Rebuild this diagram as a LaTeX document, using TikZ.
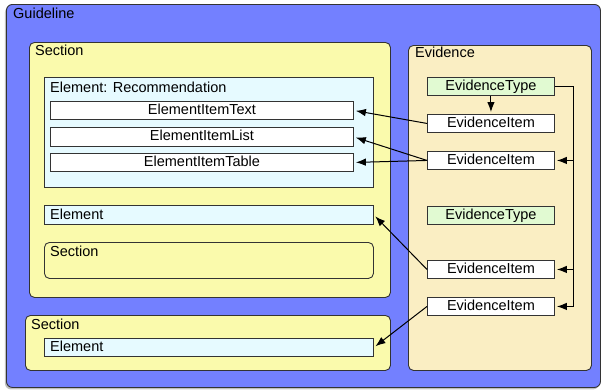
\documentclass[tikz,border=0pt]{standalone}
\usepackage{fontspec}
\setmainfont{Liberation Sans}
\usetikzlibrary{arrows.meta,shadows}

\definecolor{guideblue}{RGB}{115,128,255}
\definecolor{sectyellow}{RGB}{250,250,172}
\definecolor{elemcyan}{RGB}{230,250,255}
\definecolor{evbeige}{RGB}{250,238,195}
\definecolor{typegreen}{RGB}{225,250,210}
\newcommand{\diafont}{\fontsize{14.5}{17}\selectfont}

\begin{document}
\begin{tikzpicture}[x=1pt,y=-1pt,
    box/.style={draw=black!80, line width=0.9pt, inner sep=0pt, anchor=north west},
    guidebox/.style={box, fill=guideblue, rounded corners=6pt,
      drop shadow={shadow xshift=-1.5pt, shadow yshift=-2pt, opacity=.5}},
    sectbox/.style={box, fill=sectyellow, rounded corners=5pt},
    evbox/.style={box, fill=evbeige, rounded corners=5pt},
    elembox/.style={box, fill=elemcyan},
    itembox/.style={box, fill=white, font=\diafont, text height=10.5pt, text depth=3pt},
    typebox/.style={itembox, fill=typegreen},
    lbl/.style={anchor=base west, inner sep=0pt, font=\diafont},
    arr/.style={-{Latex[length=10pt,width=7.5pt]}, line width=1pt, shorten >=2pt}]
  \useasboundingbox (0,0) rectangle (605,391);

  % guideline
  \node[guidebox, minimum width=594pt, minimum height=383pt] (guideline) at (6,4) {};
  \node[lbl] at (13,18) {Guideline};

  % first section
  \node[sectbox, minimum width=361pt, minimum height=255pt] (section1) at (29,42) {};
  \node[lbl] at (35,55) {Section};
  \node[elembox, minimum width=329pt, minimum height=110pt] (recommendation) at (44,77) {};
  \node[lbl] at (50,92) {Element: Recommendation};
  \node[itembox, minimum width=303pt, minimum height=18pt] (itemtext) at (50,101) {ElementItemText};
  \node[itembox, minimum width=303pt, minimum height=19pt] (itemlist) at (50,127) {ElementItemList};
  \node[itembox, minimum width=303pt, minimum height=18pt] (itemtable) at (50,153) {ElementItemTable};
  \node[elembox, minimum width=329pt, minimum height=19pt] (element1) at (44,205) {};
  \node[lbl] at (50,219) {Element};
  \node[sectbox, minimum width=329pt, minimum height=36pt] (subsection) at (44,242) {};
  \node[lbl] at (50,256) {Section};

  % second section
  \node[sectbox, minimum width=365pt, minimum height=55pt] (section2) at (25,315) {};
  \node[lbl] at (31,329) {Section};
  \node[elembox, minimum width=329pt, minimum height=18pt] (element2) at (44,338) {};
  \node[lbl] at (50,351) {Element};

  % evidence
  \node[evbox, minimum width=183pt, minimum height=325pt] (evidence) at (408,45) {};
  \node[lbl] at (415,57) {Evidence};
  \node[typebox, minimum width=127pt, minimum height=18pt] (evtype1) at (427,77) {EvidenceType};
  \node[itembox, minimum width=127pt, minimum height=18pt] (evitem1) at (427,114) {EvidenceItem};
  \node[itembox, minimum width=127pt, minimum height=18pt] (evitem2) at (427,151) {EvidenceItem};
  \node[typebox, minimum width=127pt, minimum height=18pt] (evtype2) at (427,206) {EvidenceType};
  \node[itembox, minimum width=127pt, minimum height=18pt] (evitem3) at (427,260) {EvidenceItem};
  \node[itembox, minimum width=127pt, minimum height=18pt] (evitem4) at (427,297) {EvidenceItem};
  \coordinate (rail) at (573,0);

  % connectors
  \draw[arr] (evtype1.south) -- (evitem1.north);
  \draw[arr] (evtype1.east) -- (evtype1.east -| rail) |- (evitem4.east);
  \draw[arr] (evitem2.east -| rail) -- (evitem2.east);
  \draw[arr] (evitem3.east -| rail) -- (evitem3.east);
  \draw[arr] (evitem1.west) -- (itemtext.east);
  \draw[arr] (evitem2.west) -- (itemlist.east);
  \draw[arr] (evitem2.west) -- (itemtable.east);
  \draw[arr] (evitem3.west) -- (element1.east);
  \draw[arr] (evitem4.west) -- (element2.east);
\end{tikzpicture}
\end{document}
